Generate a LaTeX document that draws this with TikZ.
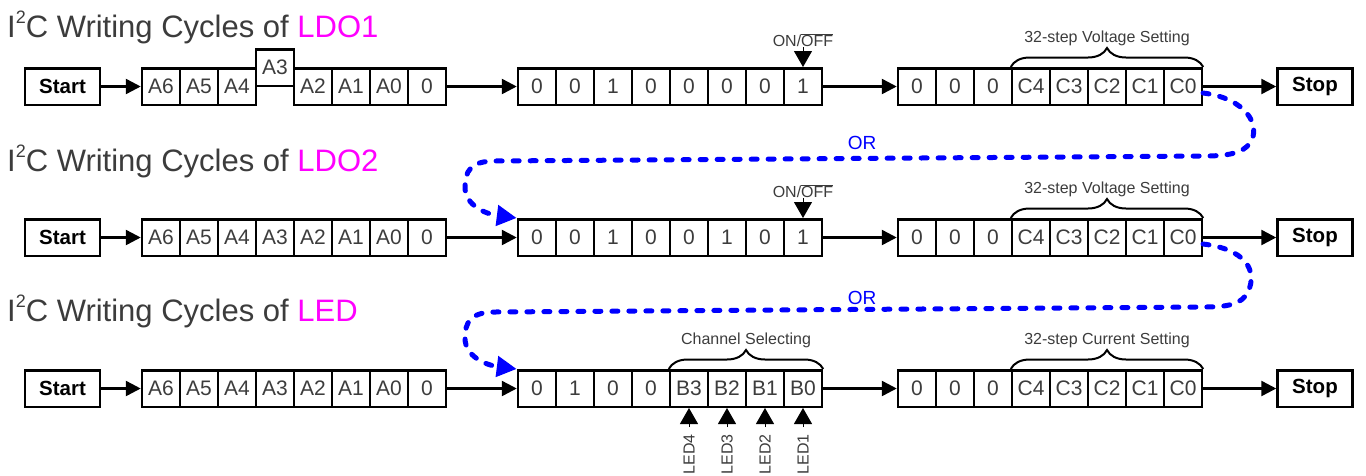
\documentclass[tikz,border=0pt]{standalone}
\usepackage{fontspec}
\setmainfont{Liberation Sans}
\usetikzlibrary{arrows.meta,decorations.pathreplacing}
\definecolor{ldomag}{RGB}{255,0,255}
\definecolor{txtgray}{RGB}{60,60,60}
\definecolor{orblue}{RGB}{0,0,255}
\newcommand{\sqtwo}{\raisebox{0.42em}{\fontsize{18}{18}\selectfont 2}}
\begin{document}
\begin{tikzpicture}[x=1pt, y=-1pt,
    cell/.style={draw, line width=2.5pt, minimum width=38pt, minimum height=36.5pt, inner sep=0pt, text=txtgray, font=\fontsize{21}{24}\selectfont},
    endbox/.style={draw, line width=2.5pt, minimum width=75pt, minimum height=36.5pt, inner sep=0pt, font=\fontsize{20.5}{24}\selectfont\bfseries},
    ttl/.style={anchor=base west, inner sep=0pt, text=txtgray, font=\fontsize{31}{36}\selectfont},
    small/.style={inner sep=0pt, text=txtgray, font=\fontsize{16}{18}\selectfont},
    ortxt/.style={text=orblue, font=\fontsize{19}{22}\selectfont},
    flow/.style={line width=2.5pt, -{Triangle[length=15pt, width=15pt]}},
    markarrow/.style={line width=1pt, -{Triangle[length=16pt, width=18pt]}},
    brc/.style={decorate, decoration={brace, amplitude=19pt}, line width=2pt},
    ordash/.style={orblue, line width=5pt, line cap=round, dash pattern=on 6pt off 11pt, -{Triangle[length=20pt, width=20pt]}}]
    \useasboundingbox (0,0) rectangle (1366,475);
    \node[ttl] (t1) at (7,37) {I\sqtwo C Writing Cycles of \textcolor{ldomag}{LDO1}};
    \node[endbox] (st1) at (62.5,86.5) {Start};
    \node[cell] (r1a6) at (161,86.5) {A6};
    \node[cell] (r1a5) at (199,86.5) {A5};
    \node[cell] (r1a4) at (237,86.5) {A4};
    \node[cell] (r1a3) at (275,67.5) {A3};
    \node[cell] (r1a2) at (313,86.5) {A2};
    \node[cell] (r1a1) at (351,86.5) {A1};
    \node[cell] (r1a0) at (389,86.5) {A0};
    \node[cell] (r1w) at (427,86.5) {0};
    \node[cell] (r1p1) at (537,86.5) {0};
    \node[cell] (r1p2) at (575,86.5) {0};
    \node[cell] (r1p3) at (613,86.5) {1};
    \node[cell] (r1p4) at (651,86.5) {0};
    \node[cell] (r1p5) at (689,86.5) {0};
    \node[cell] (r1p6) at (727,86.5) {0};
    \node[cell] (r1p7) at (765,86.5) {0};
    \node[cell] (r1p8) at (803,86.5) {1};
    \node[cell] (r1d1) at (917,86.5) {0};
    \node[cell] (r1d2) at (955,86.5) {0};
    \node[cell] (r1d3) at (993,86.5) {0};
    \node[cell] (r1d4) at (1031,86.5) {C4};
    \node[cell] (r1d5) at (1069,86.5) {C3};
    \node[cell] (r1d6) at (1107,86.5) {C2};
    \node[cell] (r1d7) at (1145,86.5) {C1};
    \node[cell] (r1d8) at (1183,86.5) {C0};
    \node[endbox] (sp1) at (1315,86.5) {Stop};
    \node[small, anchor=south] (oo1) at (803,47) {ON/$\overline{\mbox{OFF}}$};
    \node[small] (vs1) at (1107,38) {32-step Voltage Setting};
    \draw[flow] (st1.east) -- (r1a6.west);
    \draw[flow] (r1w.east) -- (r1p1.west);
    \draw[flow] (r1p8.east) -- (r1d1.west);
    \draw[flow] (r1d8.east) -- (sp1.west);
    \draw[markarrow] (oo1.south) -- (r1p8.north);
    \draw[brc] (r1d4.north west) -- (r1d8.north east);
    \node[ttl] (t2) at (7,171) {I\sqtwo C Writing Cycles of \textcolor{ldomag}{LDO2}};
    \node[endbox] (st2) at (62.5,237.5) {Start};
    \node[cell] (r2a6) at (161,237.5) {A6};
    \node[cell] (r2a5) at (199,237.5) {A5};
    \node[cell] (r2a4) at (237,237.5) {A4};
    \node[cell] (r2a3) at (275,237.5) {A3};
    \node[cell] (r2a2) at (313,237.5) {A2};
    \node[cell] (r2a1) at (351,237.5) {A1};
    \node[cell] (r2a0) at (389,237.5) {A0};
    \node[cell] (r2w) at (427,237.5) {0};
    \node[cell] (r2p1) at (537,237.5) {0};
    \node[cell] (r2p2) at (575,237.5) {0};
    \node[cell] (r2p3) at (613,237.5) {1};
    \node[cell] (r2p4) at (651,237.5) {0};
    \node[cell] (r2p5) at (689,237.5) {0};
    \node[cell] (r2p6) at (727,237.5) {1};
    \node[cell] (r2p7) at (765,237.5) {0};
    \node[cell] (r2p8) at (803,237.5) {1};
    \node[cell] (r2d1) at (917,237.5) {0};
    \node[cell] (r2d2) at (955,237.5) {0};
    \node[cell] (r2d3) at (993,237.5) {0};
    \node[cell] (r2d4) at (1031,237.5) {C4};
    \node[cell] (r2d5) at (1069,237.5) {C3};
    \node[cell] (r2d6) at (1107,237.5) {C2};
    \node[cell] (r2d7) at (1145,237.5) {C1};
    \node[cell] (r2d8) at (1183,237.5) {C0};
    \node[endbox] (sp2) at (1315,237.5) {Stop};
    \node[small, anchor=south] (oo2) at (803,198) {ON/$\overline{\mbox{OFF}}$};
    \node[small] (vs2) at (1107,189) {32-step Voltage Setting};
    \draw[flow] (st2.east) -- (r2a6.west);
    \draw[flow] (r2w.east) -- (r2p1.west);
    \draw[flow] (r2p8.east) -- (r2d1.west);
    \draw[flow] (r2d8.east) -- (sp2.west);
    \draw[markarrow] (oo2.south) -- (r2p8.north);
    \draw[brc] (r2d4.north west) -- (r2d8.north east);
    \node[ttl] (t3) at (7,321) {I\sqtwo C Writing Cycles of \textcolor{ldomag}{LED}};
    \node[endbox] (st3) at (62.5,388.5) {Start};
    \node[cell] (r3a6) at (161,388.5) {A6};
    \node[cell] (r3a5) at (199,388.5) {A5};
    \node[cell] (r3a4) at (237,388.5) {A4};
    \node[cell] (r3a3) at (275,388.5) {A3};
    \node[cell] (r3a2) at (313,388.5) {A2};
    \node[cell] (r3a1) at (351,388.5) {A1};
    \node[cell] (r3a0) at (389,388.5) {A0};
    \node[cell] (r3w) at (427,388.5) {0};
    \node[cell] (r3p1) at (537,388.5) {0};
    \node[cell] (r3p2) at (575,388.5) {1};
    \node[cell] (r3p3) at (613,388.5) {0};
    \node[cell] (r3p4) at (651,388.5) {0};
    \node[cell] (r3p5) at (689,388.5) {B3};
    \node[cell] (r3p6) at (727,388.5) {B2};
    \node[cell] (r3p7) at (765,388.5) {B1};
    \node[cell] (r3p8) at (803,388.5) {B0};
    \node[cell] (r3d1) at (917,388.5) {0};
    \node[cell] (r3d2) at (955,388.5) {0};
    \node[cell] (r3d3) at (993,388.5) {0};
    \node[cell] (r3d4) at (1031,388.5) {C4};
    \node[cell] (r3d5) at (1069,388.5) {C3};
    \node[cell] (r3d6) at (1107,388.5) {C2};
    \node[cell] (r3d7) at (1145,388.5) {C1};
    \node[cell] (r3d8) at (1183,388.5) {C0};
    \node[endbox] (sp3) at (1315,388.5) {Stop};
    \node[small] (ch3) at (746,340) {Channel Selecting};
    \node[small] (cs3) at (1107,340) {32-step Current Setting};
    \draw[flow] (st3.east) -- (r3a6.west);
    \draw[flow] (r3w.east) -- (r3p1.west);
    \draw[flow] (r3p8.east) -- (r3d1.west);
    \draw[flow] (r3d8.east) -- (sp3.west);
    \draw[brc] (r3p5.north west) -- (r3p8.north east);
    \draw[brc] (r3d4.north west) -- (r3d8.north east);
    \node[small, rotate=90, anchor=east, inner xsep=7pt] (led4) at (689,427) {LED4};
    \node[small, rotate=90, anchor=east, inner xsep=7pt] (led3) at (727,427) {LED3};
    \node[small, rotate=90, anchor=east, inner xsep=7pt] (led2) at (765,427) {LED2};
    \node[small, rotate=90, anchor=east, inner xsep=7pt] (led1) at (803,427) {LED1};
    \draw[markarrow] (led4.east) -- (r3p5.south);
    \draw[markarrow] (led3.east) -- (r3p6.south);
    \draw[markarrow] (led2.east) -- (r3p7.south);
    \draw[markarrow] (led1.east) -- (r3p8.south);
    \coordinate (o1a) at (1203,93);
    \coordinate (o2a) at (1203,244);
    \node[ortxt] (or1) at (862,143) {OR};
    \node[ortxt] (or2) at (862,298) {OR};
    \draw[ordash] (o1a) .. controls (1245,98) and (1262,125) .. (1250,143) .. controls (1243,153) and (1228,156) .. (1205,156) -- (495,161) .. controls (470,161) and (465,172) .. (465,187) .. controls (465,205) and (485,214) .. (r2p1.north west);
    \draw[ordash] (o2a) .. controls (1245,249) and (1258,270) .. (1248,292) .. controls (1242,304) and (1228,307) .. (1205,307) -- (495,312) .. controls (470,312) and (465,323) .. (465,338) .. controls (465,356) and (485,365) .. (r3p1.north west);
\end{tikzpicture}
\end{document}
